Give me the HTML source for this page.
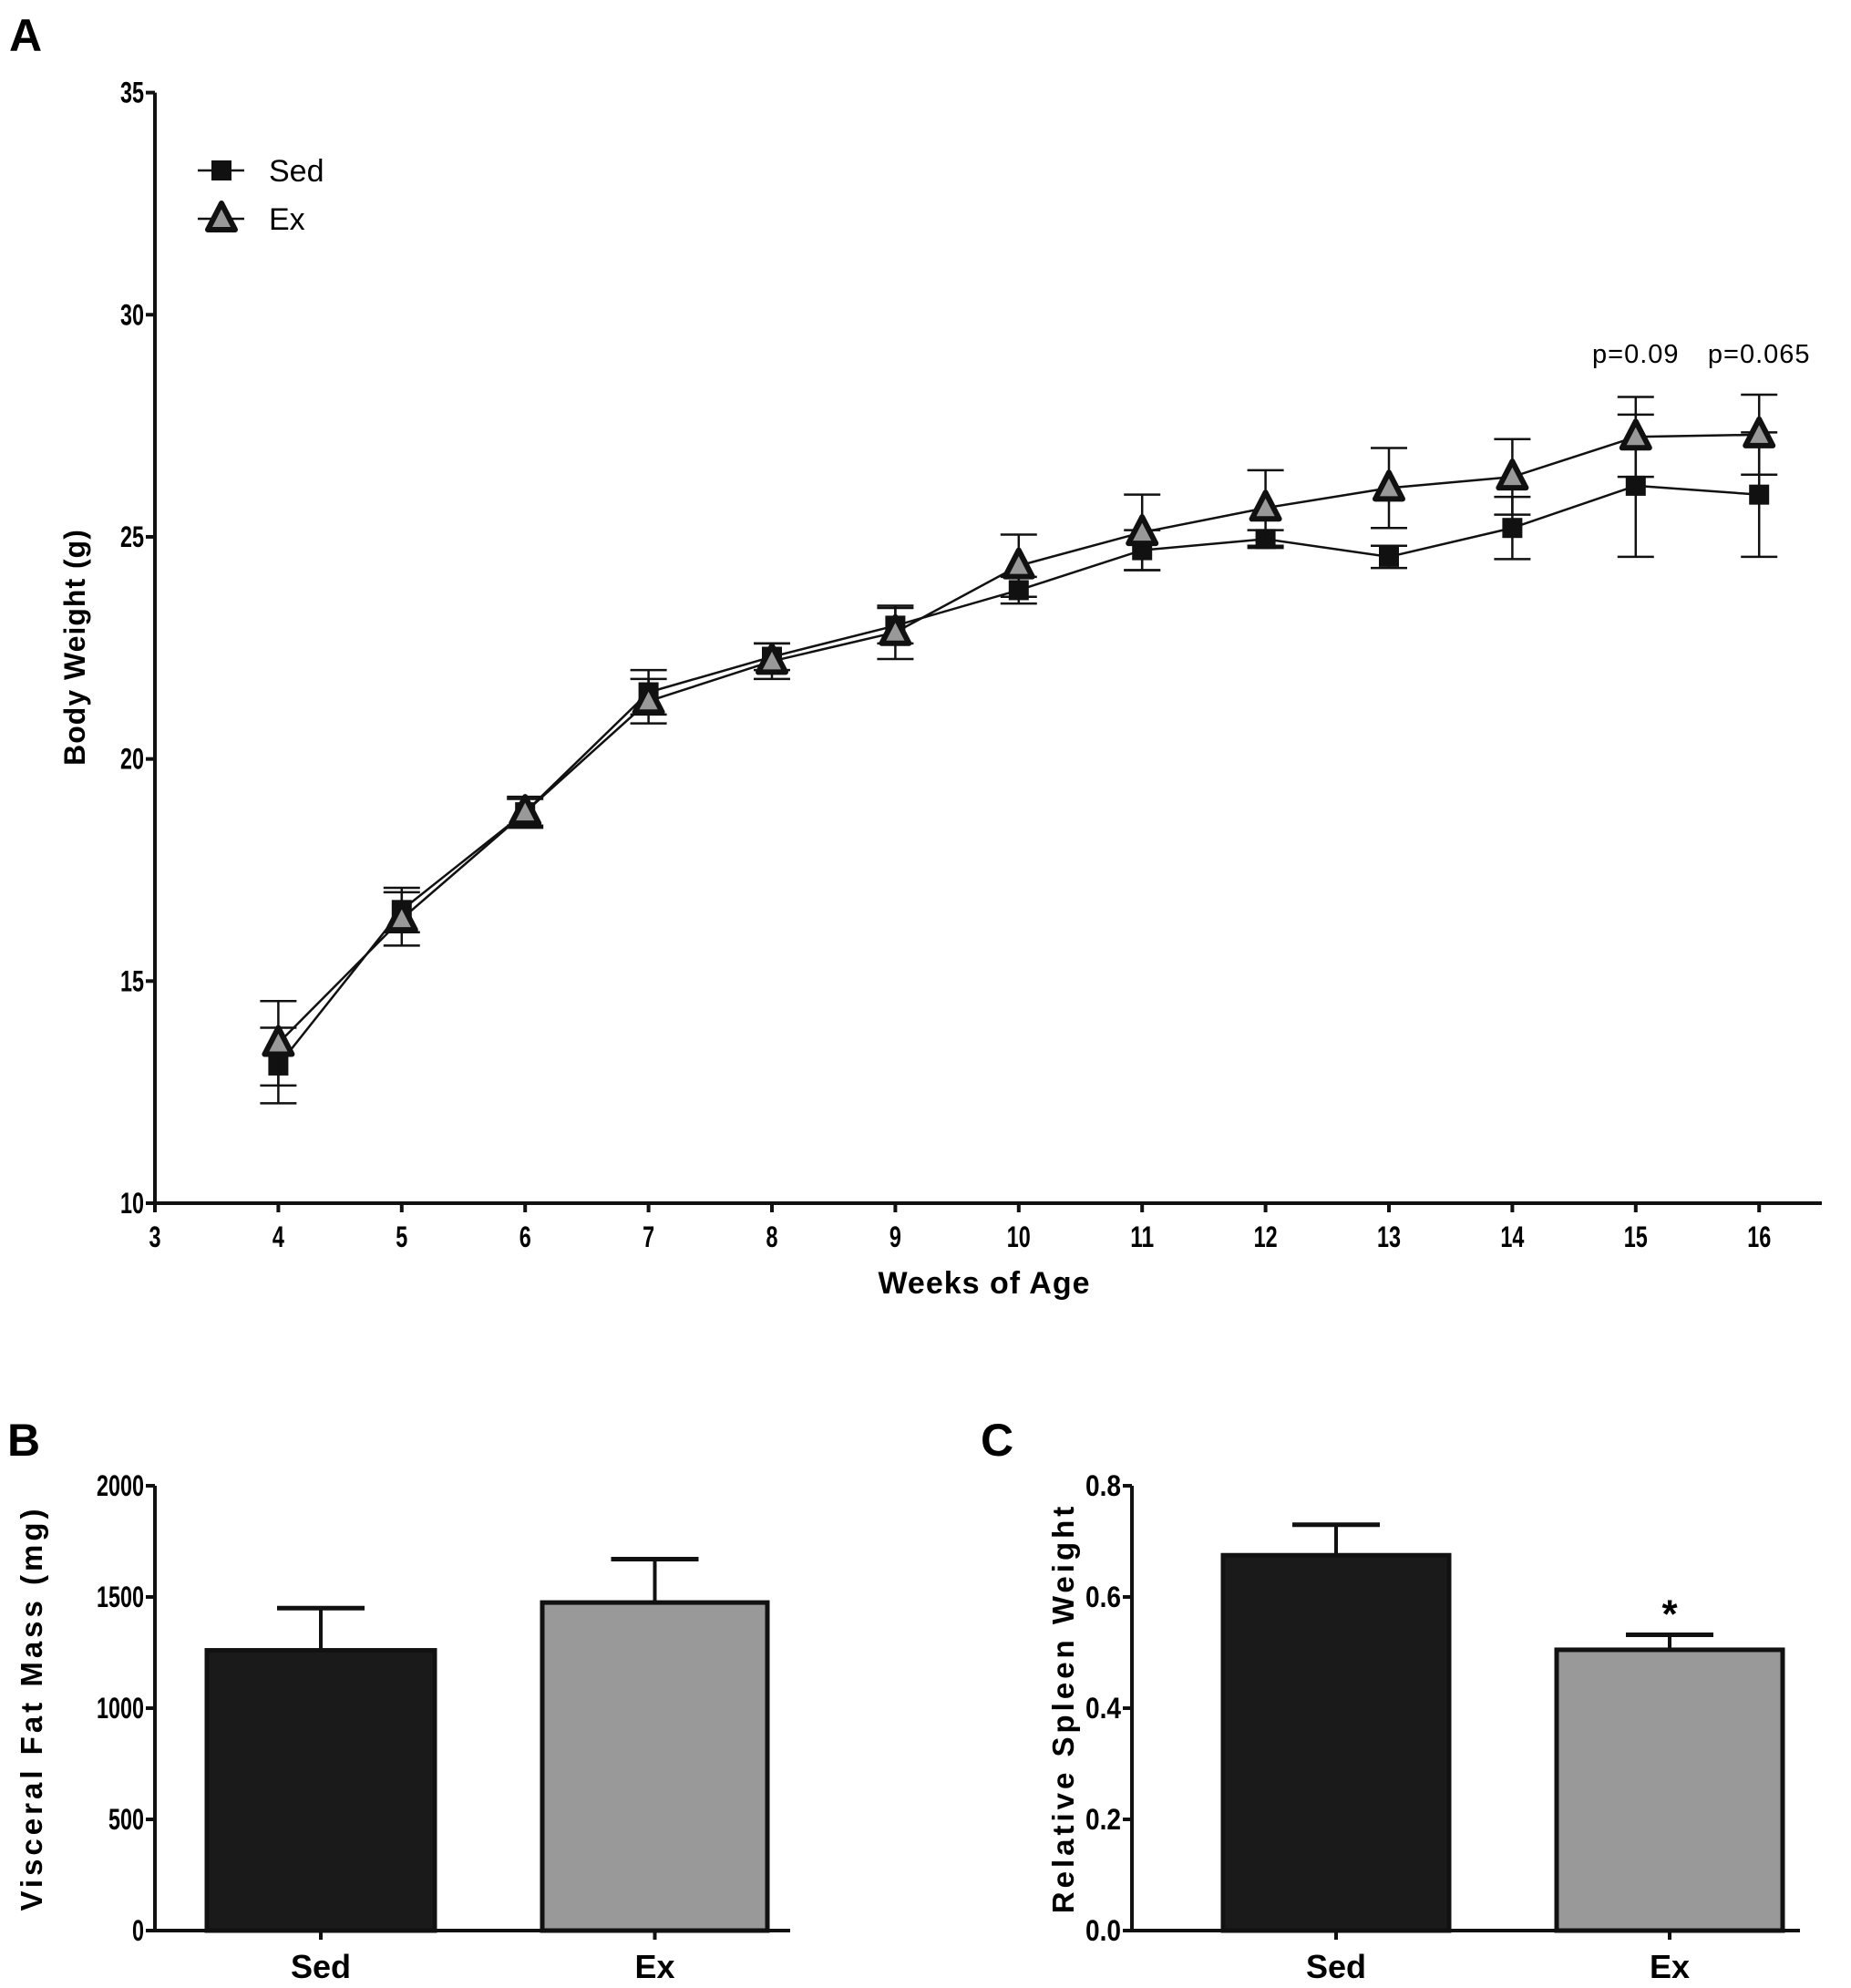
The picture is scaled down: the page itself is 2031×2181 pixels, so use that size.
<!DOCTYPE html>
<html><head><meta charset="utf-8"><style>
html,body{margin:0;padding:0;background:#fff;}
svg{display:block;font-family:"Liberation Sans",Arial,sans-serif;}
.tk{font-weight:bold;font-size:32px;}
</style></head><body>
<svg id="fig" width="2031" height="2181" viewBox="0 0 2031 2181">
<g id="gA"></g>
<g id="gB"></g>
<g id="gC"></g>
</svg>
<script>
const weeks = [4,5,6,7,8,9,10,11,12,13,14,15,16];
const sedMean = [13.1,16.6,18.8,21.5,22.3,23.0,23.8,24.7,24.95,24.55,25.2,26.15,25.95];
const sedErr = [0.85,0.5,0.3,0.5,0.3,0.4,0.3,0.45,0.2,0.25,0.7,1.6,1.4];
const exMean = [13.6,16.4,18.8,21.3,22.2,22.85,24.35,25.1,25.65,26.1,26.35,27.25,27.3];
const exErr = [0.95,0.6,0.35,0.5,0.4,0.6,0.7,0.85,0.85,0.9,0.85,0.9,0.9];
const xTicksA = [3,4,5,6,7,8,9,10,11,12,13,14,15,16];
const yTicksA = [10,15,20,25,30,35];
const pLabels = ["p=0.09","p=0.065"];
const pWeeks = [15,16];
const barCats = ["Sed","Ex"];
const fatMean = [1260,1475];
const fatErr = [190,195];
const fatTicks = [0,500,1000,1500,2000];
const spleenMean = [0.675,0.505];
const spleenErr = [0.055,0.027];
const spleenTicks = ["0.0","0.2","0.4","0.6","0.8"];
const NS="http://www.w3.org/2000/svg";
function mk(p,t,a,txt){const e=document.createElementNS(NS,t);for(const k in a)e.setAttribute(k,a[k]);if(txt!==undefined)e.textContent=txt;p.appendChild(e);return e;}
function cond(e,s){e.setAttribute('textLength',s.length*13);e.setAttribute('lengthAdjust','spacingAndGlyphs');}

// Panel A
const gA=document.getElementById('gA');
const ax0=170, ax1=1999, ay0=1320, ay1=101.6;
const xA=w=>ax0+(w-3)*135.4;
const yA=v=>ay0-(v-10)*(ay0-ay1)/25;
let t=mk(gA,'text',{x:10,y:56,'font-size':50,'font-weight':'bold'},'A');

let l=mk(gA,'line',{x1:ax0,y1:ay1,x2:ax0,y2:ay0,stroke:'#111','stroke-width':4});

l=mk(gA,'line',{x1:ax0,y1:ay0,x2:ax1,y2:ay0,stroke:'#111','stroke-width':4});

yTicksA.forEach(v=>{
  mk(gA,'line',{x1:ax0-10,y1:yA(v),x2:ax0,y2:yA(v),stroke:'#111','stroke-width':4});
  const e=mk(gA,'text',{x:ax0-12,y:yA(v)+11,'text-anchor':'end',class:'tk'},String(v));
  cond(e,String(v));
  
});
xTicksA.forEach(v=>{
  mk(gA,'line',{x1:xA(v),y1:ay0,x2:xA(v),y2:ay0+10,stroke:'#111','stroke-width':4});
  const e=mk(gA,'text',{x:xA(v),y:ay0+48,'text-anchor':'middle',class:'tk'},String(v));
  cond(e,String(v));
  
});
t=mk(gA,'text',{x:1080,y:1419,'text-anchor':'middle','font-size':34,'font-weight':'bold','letter-spacing':1},'Weeks of Age');

t=mk(gA,'text',{x:0,y:0,'text-anchor':'middle','font-size':32,'font-weight':'bold','letter-spacing':1,transform:'translate(93,710) rotate(-90)'},'Body Weight (g)');

function errs(g,means,errsArr){
  means.forEach((m,i)=>{const x=xA(weeks[i]);
    mk(g,'line',{x1:x,y1:yA(m-errsArr[i]),x2:x,y2:yA(m+errsArr[i]),stroke:'#111','stroke-width':2.5});
    [m-errsArr[i],m+errsArr[i]].forEach(v=>mk(g,'line',{x1:x-20,y1:yA(v),x2:x+20,y2:yA(v),stroke:'#111','stroke-width':2.5}));
  });
}
const sedG=mk(gA,'g',{});
const exG=mk(gA,'g',{});
errs(sedG,sedMean,sedErr);errs(exG,exMean,exErr);
mk(sedG,'polyline',{points:sedMean.map((m,i)=>xA(weeks[i])+','+yA(m)).join(' '),fill:'none',stroke:'#111','stroke-width':2.5});
mk(exG,'polyline',{points:exMean.map((m,i)=>xA(weeks[i])+','+yA(m)).join(' '),fill:'none',stroke:'#111','stroke-width':2.5});
sedMean.forEach((m,i)=>{const r=mk(sedG,'rect',{x:xA(weeks[i])-11,y:yA(m)-11,width:22,height:22,fill:'#111'});
  });
function tri(g,x,y){return mk(g,'polygon',{points:`${x},${y-17} ${x-15},${y+12} ${x+15},${y+12}`,fill:'#999',stroke:'#111','stroke-width':6,'stroke-linejoin':'round'});}
exMean.forEach((m,i)=>{const p=tri(exG,xA(weeks[i]),yA(m));
  });
pLabels.forEach((s,i)=>{const e=mk(gA,'text',{x:xA(pWeeks[i]),y:398,'text-anchor':'middle','font-size':29,'letter-spacing':1},s);
  });
// legend
const lg=mk(gA,'g',{});
mk(lg,'line',{x1:217,y1:187,x2:268,y2:187,stroke:'#111','stroke-width':2.5});
mk(lg,'rect',{x:232,y:176,width:22,height:22,fill:'#111'});
t=mk(lg,'text',{x:295,y:199,'font-size':34},'Sed');
mk(lg,'line',{x1:217,y1:240,x2:268,y2:240,stroke:'#111','stroke-width':2.5});
tri(lg,243,240);
t=mk(lg,'text',{x:295,y:252,'font-size':34},'Ex');

// bar panels
function barPanel(g,letter,lx,axX,axEnd,bars,means,errsArr,ticks,tickVals,maxV,title,titleX,star){
  const y0=2118,y1=1630;
  const y=v=>y0-v*(y0-y1)/maxV;
  let e=mk(g,'text',{x:lx,y:1597,'font-size':50,'font-weight':'bold'},letter);
  
  means.forEach((m,i)=>{const b=bars[i],cx=(b[0]+b[1])/2;
    mk(g,'line',{x1:cx,y1:y(m),x2:cx,y2:y(m+errsArr[i]),stroke:'#111','stroke-width':4});
    mk(g,'line',{x1:cx-48,y1:y(m+errsArr[i]),x2:cx+48,y2:y(m+errsArr[i]),stroke:'#111','stroke-width':5});
    const r=mk(g,'rect',{x:b[0],y:y(m),width:b[1]-b[0],height:y0-y(m),fill:i?'#999':'#1a1a1a',stroke:'#111','stroke-width':5});
    
    mk(g,'line',{x1:cx,y1:y0,x2:cx,y2:y0+10,stroke:'#111','stroke-width':4});
    const tx=mk(g,'text',{x:cx,y:2170,'text-anchor':'middle','font-weight':'bold','font-size':36},barCats[i]);
    
  });
  mk(g,'line',{x1:axX,y1:y1,x2:axX,y2:y0,stroke:'#111','stroke-width':4});
  mk(g,'line',{x1:axX,y1:y0,x2:axEnd,y2:y0,stroke:'#111','stroke-width':4});
  ticks.forEach((s,i)=>{const v=tickVals[i];
    mk(g,'line',{x1:axX-10,y1:y(v),x2:axX,y2:y(v),stroke:'#111','stroke-width':4});
    const tx=mk(g,'text',{x:axX-12,y:y(v)+11,'text-anchor':'end',class:'tk'},s);
    cond(tx,s);
    
  });
  e=mk(g,'text',{x:0,y:0,'text-anchor':'middle','font-size':33,'font-weight':'bold','letter-spacing':4,transform:`translate(${titleX},1874) rotate(-90)`},title);
  
  if(star){e=mk(g,'text',{x:(bars[1][0]+bars[1][1])/2,y:y(means[1]+errsArr[1])-8,'text-anchor':'middle','font-size':44,'font-weight':'bold'},'*');
    }
}
barPanel(document.getElementById('gB'),'B',8,170,867,[[227,477],[595,842]],fatMean,fatErr,fatTicks.map(String),fatTicks,2000,'Visceral Fat Mass (mg)',46,false);
barPanel(document.getElementById('gC'),'C',1076,1242,1975,[[1342,1590],[1708,1956]],spleenMean,spleenErr,spleenTicks,spleenTicks.map(Number),0.8,'Relative Spleen Weight',1178,true);
</script>
</body></html>
